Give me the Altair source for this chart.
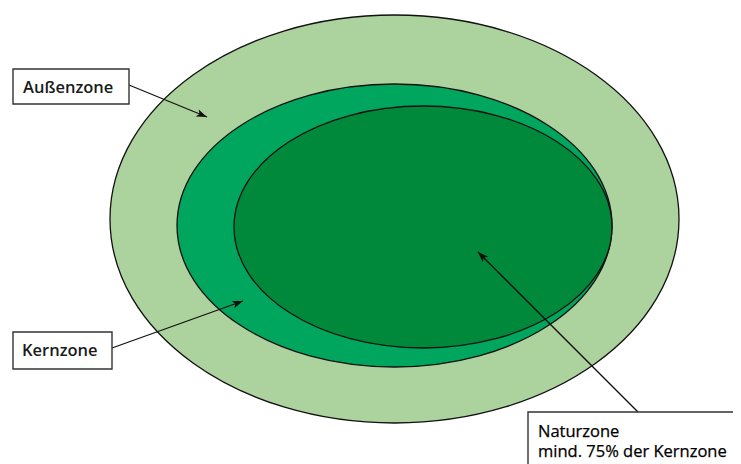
import altair as alt
import pandas as pd

# Zones (ellipses), in picture pixel coordinates
zone_names = ["Außenzone", "Kernzone", "Naturzone"]
zone_cx = [394.5, 394.5, 423.0]
zone_cy = [219.0, 225.5, 227.0]
zone_rx = [284.5, 217.5, 189.0]
zone_ry = [204.0, 141.5, 121.0]
zone_colors = ["#acd39e", "#00a55e", "#00893b"]

# Label boxes
box_x1 = [13, 13, 528]
box_x2 = [129, 112, 770]
box_y1 = [69, 332, 412]
box_y2 = [104, 369, 490]

# Label text lines
text_lines = ["Außenzone", "Kernzone", "Naturzone", "mind. 75% der Kernzone"]
text_x = [23, 22, 538, 538]
text_y = [93, 356, 437, 457]
text_weight = ["bold", "bold", "normal", "normal"]

# Arrows (start -> tip)
arrow_x1 = [129, 112, 638]
arrow_y1 = [85, 348, 412]
arrow_x2 = [207, 243, 478]
arrow_y2 = [117, 301, 252]

W, H = 725, 456
xs = alt.Scale(domain=[8, 8 + W], nice=False, zero=False)
ys = alt.Scale(domain=[8, 8 + H], nice=False, zero=False, reverse=True)

def ellipse_path(a):
    return f"M-1,0 A1,{a:.4f} 0 1,0 1,0 A1,{a:.4f} 0 1,0 -1,0 Z"

zones = pd.DataFrame({"name": zone_names, "cx": zone_cx, "cy": zone_cy,
                      "rx": zone_rx, "ry": zone_ry})
paths = [ellipse_path(ry / rx) for rx, ry in zip(zone_rx, zone_ry)]

ell = alt.Chart(zones).transform_calculate(
    sz="pow(2*datum.rx, 2)"
).mark_point(filled=True, opacity=1, fillOpacity=1, stroke="#111111",
             strokeWidth=1.3, strokeOpacity=1).encode(
    x=alt.X("cx:Q", scale=xs, axis=None),
    y=alt.Y("cy:Q", scale=ys, axis=None),
    size=alt.Size("sz:Q", scale=None, legend=None),
    shape=alt.Shape("name:N", scale=alt.Scale(domain=zone_names, range=paths), legend=None),
    fill=alt.Fill("name:N", scale=alt.Scale(domain=zone_names, range=zone_colors), legend=None),
    order=alt.Order("rx:Q", sort="descending"),
)

arrows = pd.DataFrame({"x1": arrow_x1, "y1": arrow_y1, "x2": arrow_x2, "y2": arrow_y2})
lines = alt.Chart(arrows).mark_rule(color="#111111", strokeWidth=1.3).encode(
    x=alt.X("x1:Q", scale=xs, axis=None), y=alt.Y("y1:Q", scale=ys, axis=None),
    x2="x2:Q", y2="y2:Q",
)
head_path = "M0,0 L-0.55,1.5 L0,1.15 L0.55,1.5 Z"
heads = alt.Chart(arrows).transform_calculate(
    ang="(atan2(datum.x2-datum.x1, -(datum.y2-datum.y1))*180/PI + 360) % 360"
).mark_point(shape=head_path, filled=True, size=200, color="#111111", opacity=1).encode(
    x=alt.X("x2:Q", scale=xs, axis=None), y=alt.Y("y2:Q", scale=ys, axis=None),
    angle=alt.Angle("ang:Q", scale=None),
)

boxes = pd.DataFrame({"x1": box_x1, "x2": box_x2, "y1": box_y1, "y2": box_y2})
rects = alt.Chart(boxes).mark_rect(fill="white", stroke="#333333", strokeWidth=1.4).encode(
    x=alt.X("x1:Q", scale=xs, axis=None), x2="x2:Q",
    y=alt.Y("y1:Q", scale=ys, axis=None), y2="y2:Q",
)

texts = pd.DataFrame({"t": text_lines, "x": text_x, "y": text_y, "w": text_weight})
labels = alt.Chart(texts).mark_text(align="left", baseline="alphabetic", font="Open Sans",
                                    fontSize=16.5, fontWeight=600, color="#1a1a1a").encode(
    x=alt.X("x:Q", scale=xs, axis=None), y=alt.Y("y:Q", scale=ys, axis=None),
    text="t:N",
).transform_filter("datum.w == 'bold'")
labels2 = alt.Chart(texts).mark_text(align="left", baseline="alphabetic", font="Open Sans",
                                     fontSize=16.5, fontWeight=500, color="#000000",
                                     stroke="#000000", strokeWidth=0.25).encode(
    x=alt.X("x:Q", scale=xs, axis=None), y=alt.Y("y:Q", scale=ys, axis=None),
    text="t:N",
).transform_filter("datum.w == 'normal'")

chart = alt.layer(ell, lines, heads, rects, labels, labels2).properties(
    width=W, height=H, padding=0, autosize=alt.AutoSizeParams(type="none")
).configure_view(stroke=None)

chart.save("out.html", embed_options={"renderer": "svg", "actions": False})
